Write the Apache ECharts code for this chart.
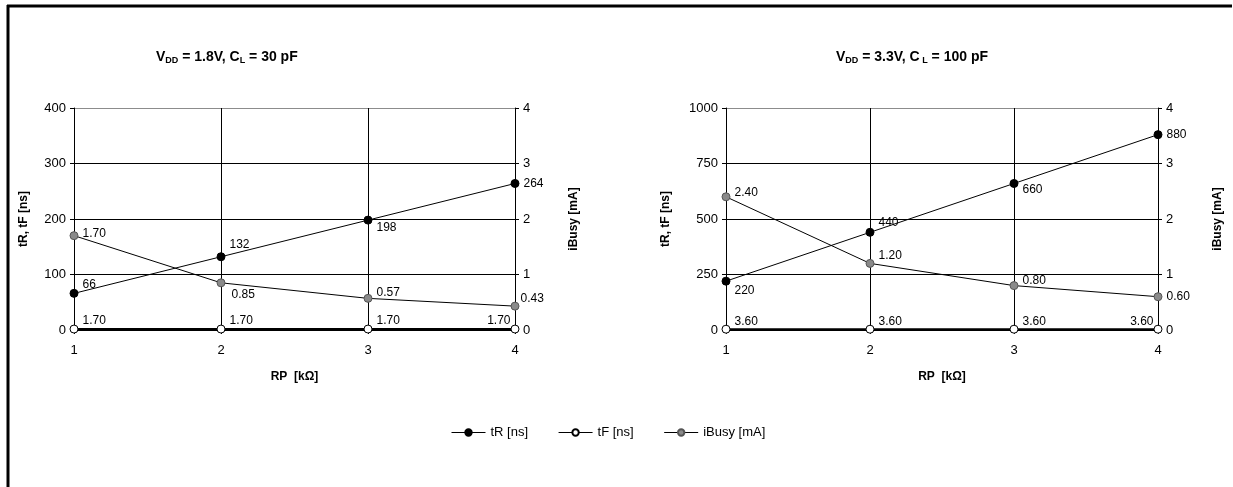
<!DOCTYPE html>
<html>
<head>
<meta charset="utf-8">
<title>tR, tF, iBusy vs RP</title>
<script src="https://cdn.jsdelivr.net/npm/echarts@6/dist/echarts.min.js"></script>
<style>
  html, body { margin: 0; padding: 0; background: #fff; }
  #chart { width: 1233px; height: 487px; }
</style>
</head>
<body>
<div id="chart"></div>
<script>
// x categories (RP in kOhm)
var rp = ['1', '2', '3', '4'];

// left chart: VDD = 1.8V, CL = 30 pF
var tR18 = [66, 132, 198, 264];
var tF18 = [1.70, 1.70, 1.70, 1.70];
var iBusy18 = [1.70, 0.85, 0.57, 0.43];

// right chart: VDD = 3.3V, CL = 100 pF
var tR33 = [220, 440, 660, 880];
var tF33 = [3.60, 3.60, 3.60, 3.60];
var iBusy33 = [2.40, 1.20, 0.80, 0.60];

// axis ranges
var nsMax18 = 400, nsStep18 = 100;
var nsMax33 = 1000, nsStep33 = 250;
var maMax = 4, maStep = 1;

// label placements per point (position, offset)
var lblTR18 = [['right', [0, -9]], ['right', [0, -12]], ['right', [0, 8]], ['right', [0, 0]]];
var lblIB18 = [['right', [0, -2]], ['right', [2, 12]], ['right', [0, -6]], ['right', [-3, -7]]];
var lblTR33 = [['right', [0, 10]], ['right', [0, -10]], ['right', [0, 6]], ['right', [0, 0]]];
var lblIB33 = [['right', [0, -4]], ['right', [0, -8]], ['right', [0, -5]], ['right', [0, 0]]];
var lblTF = [['right', [0, -8]], ['right', [0, -8]], ['right', [0, -8]], ['left', [4, -8]]];

var FONT = 'Liberation Sans, Arial, sans-serif';

function withLabels(vals, lbl, digits) {
  var out = [];
  for (var i = 0; i < vals.length; i++) {
    out.push({
      value: vals[i],
      label: { position: lbl[i][0], offset: lbl[i][1], formatter: vals[i].toFixed(digits) }
    });
  }
  return out;
}

function mkSeries(name, data, xi, yi, fill, border, lw) {
  return {
    name: name,
    type: 'line',
    xAxisIndex: xi,
    yAxisIndex: yi,
    data: data,
    symbol: 'circle',
    symbolSize: 8,
    lineStyle: { color: '#000', width: lw },
    itemStyle: { color: fill, borderColor: border, borderWidth: 1 },
    label: { show: true, color: '#000', fontSize: 12, fontFamily: FONT, distance: 4 },
    emphasis: { disabled: true },
    z: name === 'tF [ns]' ? 3 : 4
  };
}

function valAxis(gi, pos, max, step, name, gap, splitShow) {
  var n = Math.round(max / step) + 1;
  var cols = [];
  for (var i = 0; i < n; i++) cols.push(i === n - 1 ? '#8c8c8c' : '#000');
  return {
    type: 'value',
    gridIndex: gi,
    position: pos,
    min: 0,
    max: max,
    interval: step,
    name: name,
    nameLocation: 'middle',
    nameRotate: 90,
    nameGap: gap,
    nameTextStyle: { fontFamily: FONT, fontSize: 12, fontWeight: 'bold', color: '#000' },
    axisLine: { show: true, lineStyle: { color: '#000', width: 1 } },
    axisTick: { show: true, length: 4, lineStyle: { color: '#000' } },
    axisLabel: { fontFamily: FONT, fontSize: 13, color: '#000', margin: 8, formatter: function (v) { return String(v); } },
    splitLine: { show: splitShow, lineStyle: { color: cols, width: 1 } }
  };
}

function catAxis(gi) {
  return {
    type: 'category',
    gridIndex: gi,
    data: rp,
    boundaryGap: false,
    name: 'RP  [k\u03A9]',
    nameLocation: 'middle',
    nameGap: 41,
    nameTextStyle: { fontFamily: FONT, fontSize: 12, fontWeight: 'bold', color: '#000' },
    axisLine: { show: true, lineStyle: { color: '#000', width: 1 } },
    axisTick: { show: true, length: 4, alignWithLabel: true, lineStyle: { color: '#000' } },
    axisLabel: { fontFamily: FONT, fontSize: 13, color: '#000', margin: 14 },
    splitLine: { show: true, lineStyle: { color: '#000', width: 1 } }
  };
}

var titleRich = {
  n: { fontFamily: FONT, fontSize: 14, fontWeight: 'bold', color: '#000' },
  s: { fontFamily: FONT, fontSize: 9, fontWeight: 'bold', color: '#000', padding: [7, 0, 0, 0] }
};

var myChart = echarts.init(document.getElementById('chart'));
var option = {
  backgroundColor: '#fff',
  animation: false,
  title: [
    { text: '{n|V}{s|DD}{n| = 1.8V, C}{s|L}{n| = 30 pF}', left: 151, top: 44, textStyle: { rich: titleRich } },
    { text: '{n|V}{s|DD}{n| = 3.3V, C}{s| L}{n| = 100 pF}', left: 831, top: 44, textStyle: { rich: titleRich } }
  ],
  legend: {
    left: 446,
    top: 421,
    itemWidth: 34,
    itemHeight: 8,
    itemGap: 30,
    lineStyle: { width: 1 },
    textStyle: { fontFamily: FONT, fontSize: 13, color: '#000' },
    data: ['tR [ns]', 'tF [ns]', 'iBusy [mA]']
  },
  grid: [
    { left: 74, right: 718, top: 108, bottom: 157 },
    { left: 726, right: 75, top: 108, bottom: 157 }
  ],
  xAxis: [catAxis(0), catAxis(1)],
  yAxis: [
    valAxis(0, 'left', nsMax18, nsStep18, 'tR, tF [ns]', 44, true),
    valAxis(0, 'right', maMax, maStep, 'iBusy [mA]', 53, false),
    valAxis(1, 'left', nsMax33, nsStep33, 'tR, tF [ns]', 54, true),
    valAxis(1, 'right', maMax, maStep, 'iBusy [mA]', 54, false)
  ],
  series: [
    mkSeries('tF [ns]', withLabels(tF18, lblTF, 2), 0, 0, '#fff', '#000', 2),
    mkSeries('iBusy [mA]', withLabels(iBusy18, lblIB18, 2), 0, 1, '#8a8a8a', '#555', 1),
    mkSeries('tR [ns]', withLabels(tR18, lblTR18, 0), 0, 0, '#000', '#000', 1),
    mkSeries('tF [ns]', withLabels(tF33, lblTF, 2), 1, 2, '#fff', '#000', 2),
    mkSeries('iBusy [mA]', withLabels(iBusy33, lblIB33, 2), 1, 3, '#8a8a8a', '#555', 1),
    mkSeries('tR [ns]', withLabels(tR33, lblTR33, 0), 1, 2, '#000', '#000', 1)
  ],
  graphic: [
    { type: 'line', shape: { x1: 7, y1: 6, x2: 1232, y2: 6 }, style: { stroke: '#000', lineWidth: 3 } },
    { type: 'line', shape: { x1: 8, y1: 5, x2: 8, y2: 487 }, style: { stroke: '#000', lineWidth: 3 } }
  ]
};
myChart.setOption(option);
</script>
</body>
</html>
